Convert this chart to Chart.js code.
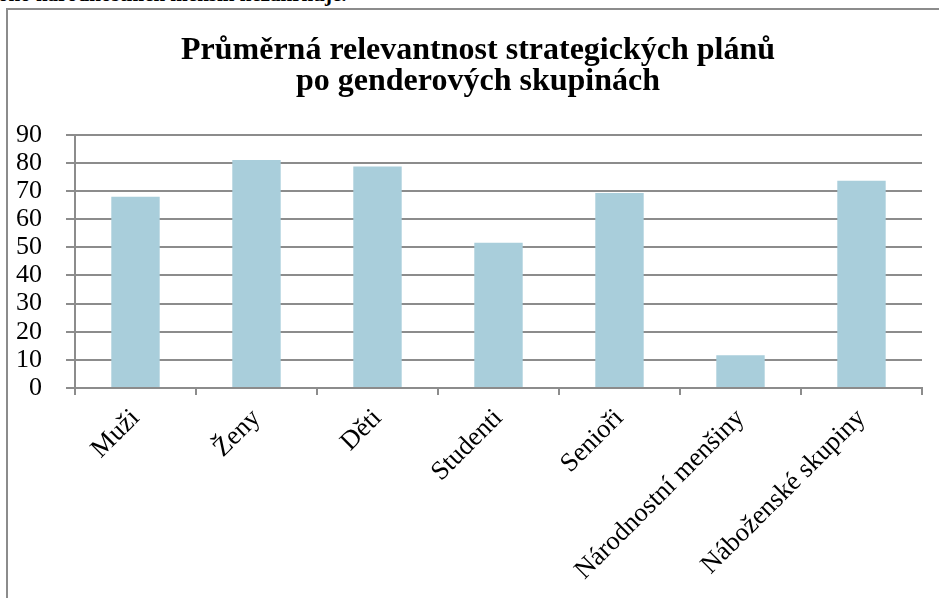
<!DOCTYPE html>
<html>
<head>
<meta charset="utf-8">
<script src="https://cdn.jsdelivr.net/npm/chart.js@4"></script>
<style>
  html, body { margin: 0; padding: 0; background: #fff; overflow: hidden; }
  body { width: 939px; height: 598px; position: relative; }
  .note { position: absolute; left: -2px; top: -18px; font: bold 21px "Liberation Serif", "Times New Roman", serif; color: #000; white-space: nowrap; }
  .frame { position: absolute; left: 6px; top: 8px; width: 1000px; height: 700px; border-left: 2px solid #8c8c8c; border-top: 2px solid #8c8c8c; }
  .box { position: absolute; left: 8px; top: 10px; width: 940px; height: 588px; }
</style>
</head>
<body>
<div class="note">ono národnostních menšin nezahrnuje.</div>
<div class="frame"></div>
<div class="box"><canvas id="chart" width="940" height="588"></canvas></div>
<script>
const categories = ['Muži', 'Ženy', 'Děti', 'Studenti', 'Senioři', 'Národnostní menšiny', 'Náboženské skupiny'];
const values = [68, 81, 78.7, 51.6, 69.3, 11.6, 73.7];
const yTicks = [0, 10, 20, 30, 40, 50, 60, 70, 80, 90];

const serif = '"Liberation Serif", "Times New Roman", serif';
const gray = '#8c8c8c';

// the title is centred on the whole frame, not on the plot, so move its box a bit right
const nudgeTitle = {
    id: 'nudgeTitle',
    afterLayout(chart) {
        if (chart.titleBlock) chart.titleBlock.left += 26;
    }
};

const ctx = document.getElementById('chart').getContext('2d');
new Chart(ctx, {
    type: 'bar',
    data: {
        labels: categories,
        datasets: [{
            data: values,
            backgroundColor: '#a9cedb',
            borderWidth: 0,
            barPercentage: 0.4,
            categoryPercentage: 1
        }]
    },
    options: {
        responsive: false,
        animation: false,
        layout: { padding: { left: 0, right: 26, top: 0, bottom: 0 } },
        plugins: {
            legend: { display: false },
            tooltip: { enabled: false },
            title: {
                display: true,
                text: ['Průměrná relevantnost strategických plánů', 'po genderových skupinách'],
                color: '#000',
                font: { family: serif, size: 32, weight: 'bold', lineHeight: 0.95 },
                padding: { top: 26, bottom: 38 }
            }
        },
        scales: {
            x: {
                offset: true,
                grid: { offset: true, drawOnChartArea: false, drawTicks: true, tickLength: 7, color: gray, lineWidth: 2 },
                border: { display: true, color: gray, width: 2 },
                ticks: {
                    color: '#000',
                    font: { family: serif, size: 26.5 },
                    minRotation: 45,
                    maxRotation: 45,
                    autoSkip: false,
                    padding: 8
                },
                afterFit: s => { s.height = 210; }
            },
            y: {
                min: 0,
                max: 90,
                afterBuildTicks: s => { s.ticks = yTicks.map(v => ({ value: v })); },
                grid: { color: gray, lineWidth: 2, drawTicks: true, tickLength: 9 },
                border: { display: true, color: gray, width: 2 },
                ticks: {
                    color: '#000',
                    font: { family: serif, size: 26 },
                    autoSkip: false,
                    padding: 24
                },
                afterFit: s => { s.width = 67; }
            }
        }
    },
    plugins: [nudgeTitle]
});
</script>
</body>
</html>
